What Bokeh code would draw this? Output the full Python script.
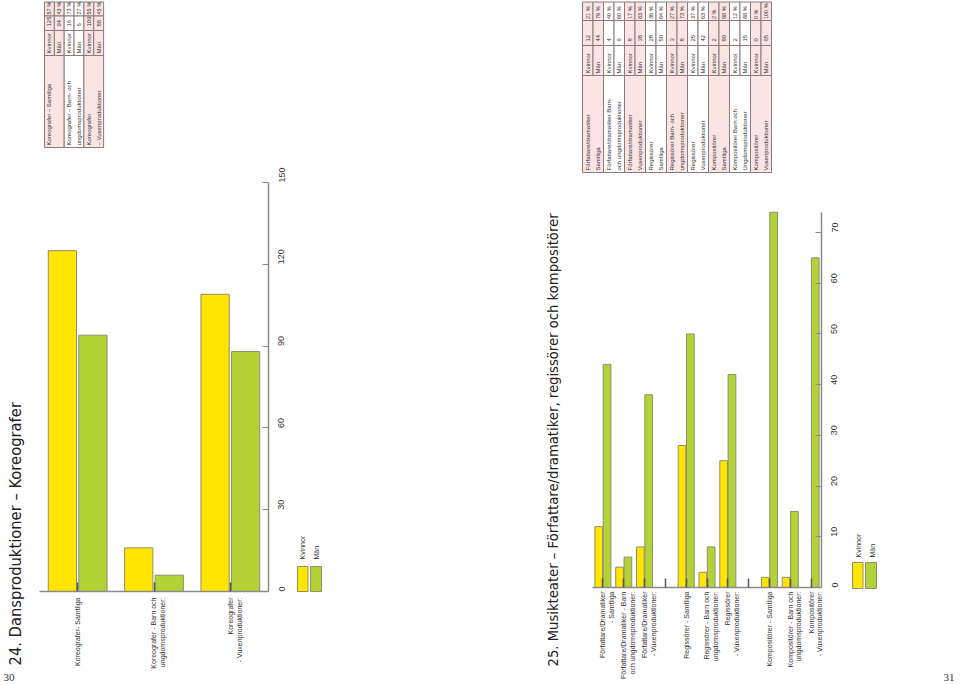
import math
import numpy as np
from bokeh.plotting import figure
from bokeh.models import Range1d, LinearAxis, FixedTicker, ColumnDataSource
from bokeh.transform import dodge
from bokeh.core.properties import value
from bokeh.embed import file_html
from bokeh.resources import INLINE

# ---------------- data ----------------
title24 = "24. Dansproduktioner – Koreografer"
cats24 = ["Koreografer- Samtliga",
          "Koreografer - Barn och\nungdomsproduktioner:",
          "Koreografer\n- Vuxenproduktioner:"]
kvinnor24 = [125, 16, 109]
man24 = [94, 6, 88]
ticks24 = [0, 30, 60, 90, 120, 150]
tbl24_labels = ["Koreografer – Samtliga",
                "Koreografer – Barn- och\nungdomsproduktioner",
                "Koreografer\n– Vuxenproduktioner"]
tbl24_pct_k = [57, 73, 55]
tbl24_pct_m = [43, 27, 45]

title25 = "25. Musikteater – Författare/dramatiker, regissörer och kompositörer"
cats25 = ["Författare/Dramatiker\n- Samtliga",
          "Författare/Dramatiker - Barn\noch ungdomsproduktioner:",
          "Författare/Dramatiker\n- Vuxenproduktioner:",
          "Regissörer - Samtliga",
          "Regissörer - Barn och\nungdomsproduktioner:",
          "Regissörer\n- Vuxenproduktioner:",
          "Kompositörer - Samtliga",
          "Kompositörer - Barn och\nungdomsproduktioner:",
          "Kompositörer\n- Vuxenproduktioner:"]
group25 = [0, 0, 0, 1, 1, 1, 2, 2, 2]
kvinnor25 = [12, 4, 8, 28, 3, 25, 2, 2, 0]
man25 = [44, 6, 38, 50, 8, 42, 80, 15, 65]
ticks25 = [0, 10, 20, 30, 40, 50, 60, 70]
axis_max25 = 74
tbl25_labels = ["Författare/dramatiker\nSamtliga",
                "Författare/dramatiker Barn-\noch ungdomsproduktioner",
                "Författare/dramatiker\nVuxenproduktioner",
                "Regissörer\nSamtliga",
                "Regissörer Barn- och\nungdomsproduktioner",
                "Regissörer\nVuxenproduktioner",
                "Kompositörer\nSamtliga",
                "Kompositörer Barn och\nUngdomsproduktioner",
                "Kompositörer\nVuxenproduktioner"]
tbl25_pct_k = [21, 40, 17, 36, 27, 37, 2, 12, 0]
tbl25_pct_m = [79, 60, 83, 64, 73, 63, 98, 88, 100]
genders = ["Kvinnor", "Män"]
page_numbers = ["30", "31"]

# ---------------- styles / layout ----------------
W, H = 960, 685
YEL = "#FFE500"
GRN = "#B3D235"
OUT = "#8f8f70"
AXC = "#8a8a8a"
TXT = "#333333"
PINK = "#FBE4E4"
TBL = "#8a7a7a"
FONT = "Liberation Sans"
SANS = value(FONT)
HALF = math.pi / 2
TFS = 6.0  # table font size (px)


def x_range_for(px_a, px_b, d_a, d_b):
    s = (px_b - px_a) / (d_b - d_a)
    start = d_a - px_a / s
    return Range1d(start, start + W / s)


def y_range_for(py_a, py_b, v_a, v_b):
    s = (py_a - py_b) / (v_b - v_a)
    start = v_a - (H - py_a) / s
    return Range1d(start, start + H / s)


p = figure(width=W, height=H, x_range=Range1d(0, W), y_range=Range1d(H, 0),
           x_axis_type=None, y_axis_type=None, toolbar_location=None,
           output_backend="svg", min_border=0)
p.outline_line_color = None
p.background_fill_color = "white"
p.border_fill_color = "white"

n24 = len(cats24)
n25slots = 4 * (max(group25) + 1) - 1
p.extra_x_ranges = {
    "x24": x_range_for(39, 268, -0.5, n24 - 0.5),
    "x25": x_range_for(592, 821, -0.5, n25slots - 0.5),
}
p.extra_y_ranges = {
    "y24": y_range_for(591, 182, 0, 150),
    "y25": y_range_for(587, 232, 0, 70),
}


def bar_chart(xs, kv, mv, labels, xr, yr, top_cap, ticks, all_slots, ymax, lab_dy):
    src = ColumnDataSource(dict(
        x=[float(v) for v in xs], k=np.minimum(kv, top_cap), m=np.minimum(mv, top_cap),
        lab=labels,
        off=[4.3 * lab.count("\n") for lab in labels],
    ))
    p.vbar(x=dodge("x", -0.2), top="k", width=0.37, source=src,
           x_range_name=xr, y_range_name=yr, fill_color=YEL, line_color=OUT, line_width=1)
    p.vbar(x=dodge("x", 0.2), top="m", width=0.37, source=src,
           x_range_name=xr, y_range_name=yr, fill_color=GRN, line_color=OUT, line_width=1)
    # category axis (ticks only; labels drawn below as text)
    ax = LinearAxis(x_range_name=xr, y_range_name=yr, fixed_location=0,
                    bounds=(-0.5, all_slots[-1] + 0.5),
                    ticker=FixedTicker(ticks=[float(v) for v in all_slots]),
                    major_label_overrides={int(v): "" for v in all_slots},
                    major_tick_in=9, major_tick_out=0,
                    major_tick_line_color="#555555", major_tick_line_width=1.5,
                    minor_tick_line_color=None, axis_line_color=AXC, axis_line_width=1.5)
    p.add_layout(ax, "below")
    # value axis
    ay = LinearAxis(x_range_name=xr, y_range_name=yr, fixed_location=all_slots[-1] + 0.5,
                    bounds=(0, ymax), ticker=FixedTicker(ticks=ticks),
                    major_tick_in=6, major_tick_out=0, major_tick_line_color=AXC,
                    minor_tick_line_color=None, axis_line_color=AXC, axis_line_width=1.5,
                    major_label_orientation=HALF, major_label_standoff=13,
                    major_label_text_font=FONT, major_label_text_font_size="9px",
                    major_label_text_color=TXT)
    p.add_layout(ay, "right")
    # category labels
    p.text(x="x", y=0, text="lab", source=src, x_range_name=xr, y_range_name=yr,
           angle=HALF, text_align="right", text_baseline="middle",
           x_offset="off", y_offset=lab_dy,
           text_font=SANS, text_font_size="7px", text_color=TXT, text_line_height=1.25)


xs24 = list(range(n24))
bar_chart(xs24, kvinnor24, man24, cats24, "x24", "y24", 150, ticks24, xs24, 150, 6)

xs25 = [4 * g + k for g, k in zip(group25, [0, 1, 2] * 3)]
bar_chart(xs25, kvinnor25, man25, cats25, "x25", "y25", axis_max25, ticks25,
          list(range(n25slots)), axis_max25, 4)


# ---------------- tables ----------------
def table(x0, rw, cols, labels, kv, mv, pk, pm):
    n = len(labels)
    gl = [x0 + 2 * g * rw for g in range(n)]
    p.quad(left=gl, right=[v + 2 * rw for v in gl], top=cols[3], bottom=cols[4],
           fill_color=[PINK if g % 2 == 0 else "white" for g in range(n)],
           line_color=TBL, line_width=1)
    rows_l = [x0 + i * rw for i in range(2 * n)]
    fills = [PINK if (i // 2) % 2 == 0 else "white" for i in range(2 * n)]
    for c in range(3):
        p.quad(left=rows_l, right=[v + rw for v in rows_l], top=cols[c], bottom=cols[c + 1],
               fill_color=fills, line_color=TBL, line_width=1)
    cx = [v + rw / 2 for v in rows_l]
    counts = [v for pair in zip(kv, mv) for v in pair]
    pcts = [f"{v} %" for pair in zip(pk, pm) for v in pair]
    gtxt = genders * n
    common = dict(angle=HALF, text_baseline="middle", text_font=SANS,
                  text_color=TXT, text_align="left")
    p.text(x=cx, y=cols[1] - 1.5, text=pcts, text_font_size=f"{TFS - 0.5}px", **common)
    p.text(x=cx, y=cols[2] - 4, text=[str(v) for v in counts], text_font_size=f"{TFS}px", **common)
    p.text(x=cx, y=cols[3] - 2, text=gtxt, text_font_size=f"{TFS}px", **common)
    p.text(x=[v + rw / 2 for v in gl], y=cols[4] - 2, text=labels,
           x_offset=[rw / 2 * lab.count("\n") for lab in labels],
           text_line_height=rw / TFS, text_font_size=f"{TFS}px", **common)


table(44, 9.85, [1.5, 15.5, 30, 55, 147], tbl24_labels, kvinnor24, man24, tbl24_pct_k, tbl24_pct_m)
table(582, 10.5, [1.5, 20, 45, 75, 172], tbl25_labels, kvinnor25, man25, tbl25_pct_k, tbl25_pct_m)

# ---------------- legends ----------------
for (yx, gx, lx_k, lx_m, ytop, ybot, ly) in [(297, 310, 302, 316, 566, 591, 559),
                                              (852, 865, 858, 872, 562, 588, 557)]:
    p.quad(left=[yx, gx], right=[yx + 10.5, gx + 11], top=ytop, bottom=ybot,
           fill_color=[YEL, GRN], line_color=OUT, line_width=1)
    p.text(x=[lx_k, lx_m], y=ly, text=genders, angle=HALF, text_align="left",
           text_baseline="middle", text_font=SANS, text_font_size="7px", text_color=TXT)

# ---------------- titles and page numbers ----------------
p.text(x=[15], y=[665], text=[title24], angle=HALF, text_align="left", text_baseline="middle",
       text_font=value("DejaVu Sans Condensed"), text_font_size="16.4px", text_color="#222222")
p.text(x=[553], y=[666], text=[title25], angle=HALF, text_align="left", text_baseline="middle",
       text_font=value("DejaVu Sans"), text_font_size="13.2px", text_color="#222222")
p.text(x=[3, 943], y=[680, 680], text=page_numbers, text_align="left", text_baseline="bottom",
       text_font=value("Liberation Serif"), text_font_size="11px", text_color="#333333")

open("out.html", "w").write(file_html(p, INLINE))
